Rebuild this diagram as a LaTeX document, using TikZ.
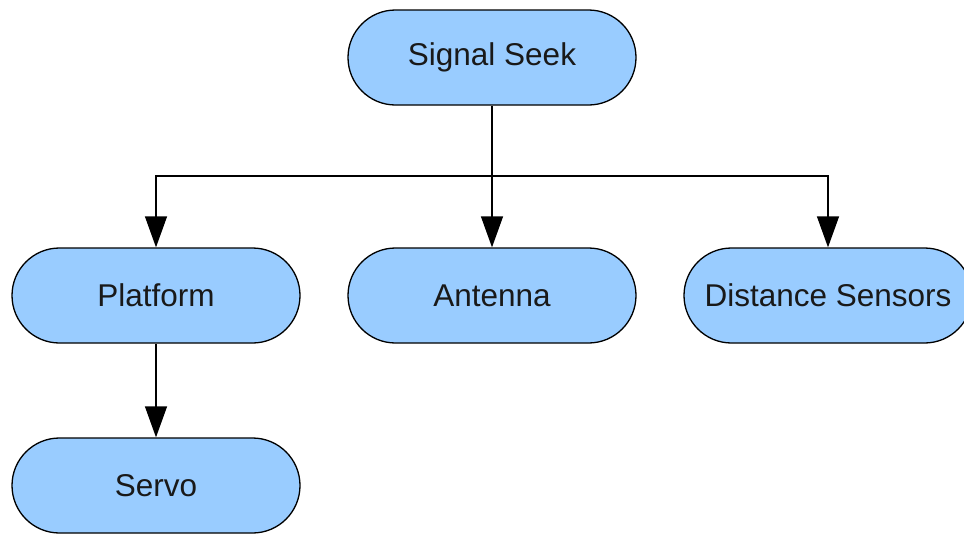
\documentclass[tikz,border=0pt]{standalone}
\usepackage{fontspec}
\setmainfont{Liberation Sans}
\usetikzlibrary{arrows.meta}
\definecolor{boxfill}{HTML}{99CCFF}
\begin{document}
\begin{tikzpicture}[x=1pt,y=-1pt,
  term/.style={draw=black, line width=1.3pt, fill=boxfill, minimum width=288pt, minimum height=95pt,
    rounded corners=47.5pt, inner sep=0pt, font=\fontsize{31.5}{36}\selectfont, text=black!90},
  arr/.style={draw=black, line width=1.3pt, -{Triangle[length=31pt,width=22pt]}}]
\useasboundingbox (0,0) rectangle (964,533);
\clip (0,0) rectangle (964,533);
\node[term] (ss) at (492,57.5) {Signal Seek};
\node[term] (plat) at (156,295.5) {Platform};
\node[term] (ant) at (492,295.5) {Antenna};
\node[term] (ds) at (828,295.5) {Distance Sensors};
\node[term] (servo) at (156,485.5) {Servo};
\coordinate (bus) at (492,176);
\draw[arr] (ss.south) -- (ant.north);
\draw[arr] (bus) -| (plat.north);
\draw[arr] (bus) -| (ds.north);
\draw[arr] (plat.south) -- (servo.north);
\end{tikzpicture}
\end{document}
